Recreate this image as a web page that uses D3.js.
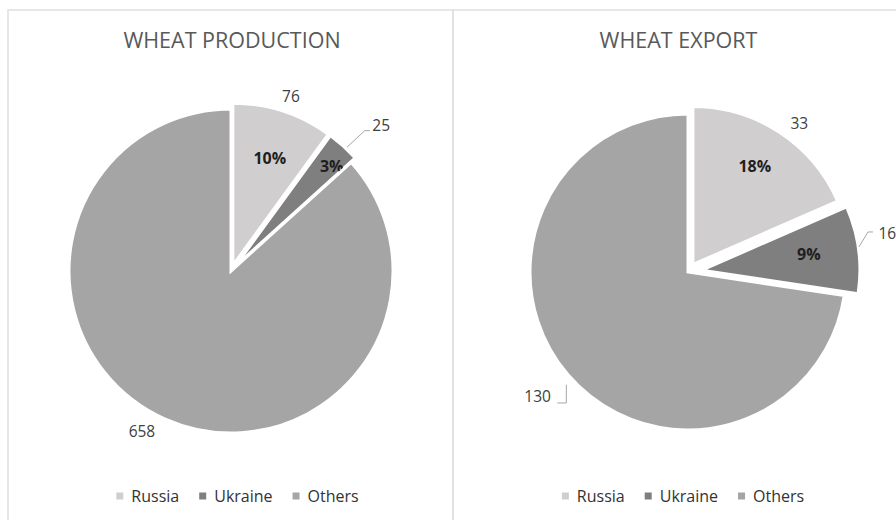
<!DOCTYPE html>
<html>
<head>
<meta charset="utf-8">
<script src="https://cdn.jsdelivr.net/npm/d3@7"></script>
<style>
  html, body { margin: 0; padding: 0; background: #ffffff; }
  svg { display: block; font-family: "Open Sans", sans-serif; }
</style>
</head>
<body>
<svg id="chart" width="896" height="520"></svg>
<script>
// ---- data ----
const categories = ["Russia", "Ukraine", "Others"];
const productionValues = [76, 25, 658];
const exportValues = [33, 16, 130];
const chartTitles = ["WHEAT PRODUCTION", "WHEAT EXPORT"];
const sliceColors = ["#d0cece", "#7f7f7f", "#a5a5a5"];

// ---- layout / styling for each panel ----
const panels = [
  {
    title: chartTitles[0], values: productionValues,
    frame: [8, 10, 453, 540], titleX: 232, cx: 231, cy: 271, r: 162,
    explode: [6, 6, 0],
    pctLabel: [{ k: 0.70, da: 1 }, { k: 0.86, da: 2 }, null],
    valLabel: [{ k: 1.10, da: 1 }, { k: 1.255, da: 4 }, { k: 1.136, da: 5 }],
    leader: [null, { a0: 1.2, k0: 1.01, a1: 1.7, k1: 1.16, h: 5 }, null],
    legendX: 237.5
  },
  {
    title: chartTitles[1], values: exportValues,
    frame: [453, 10, 920, 540], titleX: 678.5, cx: 688, cy: 272, r: 158,
    explode: [9, 14, 0],
    pctLabel: [{ k: 0.735, da: -1 }, { k: 0.685, da: -1 }, null],
    valLabel: [{ k: 1.116, da: 3.9 }, { k: 1.196, da: -3.5 }, { k: 1.238, da: 1 }],
    leader: [null, { a0: -0.9, k0: 1.005, a1: -5.4, k1: 1.079, h: 5 },
             { a0: -2.1, k0: 1.05, a1: -6.3, k1: 1.133, h: -9, vertical: true }],
    legendX: 683
  }
];

const svg = d3.select("#chart");
const toRad = Math.PI / 180;
const polar = (a, rr) => [Math.sin(a) * rr, -Math.cos(a) * rr];
const pctFmt = d3.format(".0%");

panels.forEach(p => {
  // panel frame
  const [x0, y0, x1, y1] = p.frame;
  svg.append("rect")
    .attr("x", x0).attr("y", y0).attr("width", x1 - x0).attr("height", y1 - y0)
    .attr("fill", "none").attr("stroke", "#e0e0e0").attr("stroke-width", 1.5);

  // title
  svg.append("text")
    .attr("x", p.titleX).attr("y", 48)
    .attr("text-anchor", "middle")
    .attr("font-size", 21.5).attr("fill", "#595959")
    .text(p.title);

  const total = d3.sum(p.values);
  const arcs = d3.pie().sort(null).value(d => d)(p.values);
  const arc = d3.arc().innerRadius(0).outerRadius(p.r);

  const g = svg.append("g").attr("transform", `translate(${p.cx},${p.cy})`);

  arcs.forEach((d, i) => {
    const mid = (d.startAngle + d.endAngle) / 2;
    const [ox, oy] = polar(mid, p.explode[i]);
    const sg = g.append("g").attr("transform", `translate(${ox},${oy})`);

    sg.append("path")
      .attr("d", arc(d))
      .attr("fill", sliceColors[i])
      .attr("stroke", "#ffffff").attr("stroke-width", 3)
      .attr("stroke-linejoin", "miter");

    // leader line
    const L = p.leader[i];
    if (L) {
      const s = polar(mid + L.a0 * toRad, p.r * L.k0);
      let e = polar(mid + L.a1 * toRad, p.r * L.k1);
      if (L.vertical) e = [s[0], e[1]];
      const pts = [s, e, [e[0] + L.h, e[1]]];
      sg.append("path")
        .attr("d", d3.line()(pts))
        .attr("fill", "none").attr("stroke", "#a6a6a6").attr("stroke-width", 1);
    }

    // value label outside the slice
    const V = p.valLabel[i];
    const vp = polar(mid + V.da * toRad, p.r * V.k);
    sg.append("text")
      .attr("x", vp[0]).attr("y", vp[1])
      .attr("dy", "0.35em").attr("text-anchor", "middle")
      .attr("font-size", 15.5).attr("fill", "#404040")
      .text(d.data);

    // percentage label inside the slice
    const P = p.pctLabel[i];
    if (P) {
      const pp = polar(mid + P.da * toRad, p.r * P.k);
      sg.append("text")
        .attr("x", pp[0]).attr("y", pp[1])
        .attr("dy", "0.35em").attr("text-anchor", "middle")
        .attr("font-size", 16).attr("font-weight", 700).attr("fill", "#1e1e1e")
        .text(pctFmt(d.data / total));
    }
  });

  // legend
  const lg = svg.append("g");
  let x = 0;
  categories.forEach((c, i) => {
    const it = lg.append("g").attr("transform", `translate(${x},0)`);
    it.append("rect").attr("x", 0).attr("y", -3.5).attr("width", 7).attr("height", 7)
      .attr("fill", sliceColors[i]);
    const t = it.append("text").attr("x", 15).attr("y", 0).attr("dy", "0.35em")
      .attr("font-size", 16).attr("fill", "#333333").text(c);
    x += 15 + t.node().getComputedTextLength() + 20;
  });
  const w = x - 20;
  lg.attr("transform", `translate(${p.legendX - w / 2},496)`);
});
</script>
</body>
</html>
